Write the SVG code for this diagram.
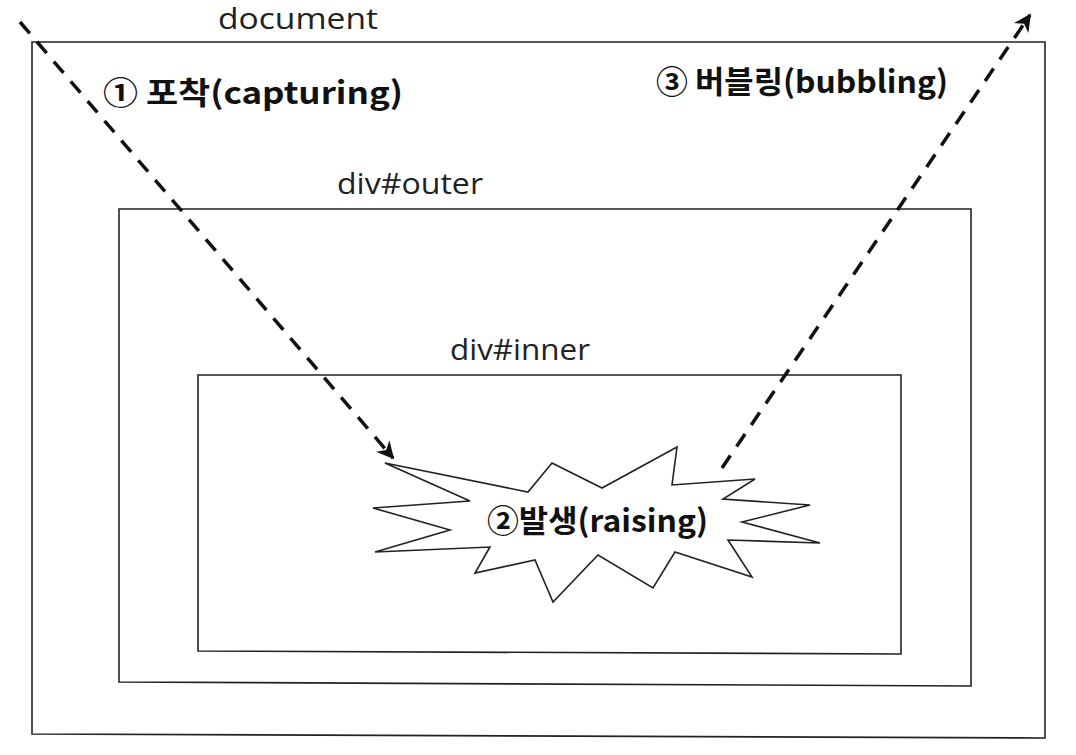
<svg xmlns="http://www.w3.org/2000/svg" width="1076" height="755" viewBox="0 0 1076 755">
<defs>
<marker id="ah" viewBox="0 0 10 10" refX="9" refY="5" markerWidth="5" markerHeight="5" orient="auto" markerUnits="strokeWidth">
<path d="M0,0 L10,5 L0,10 L3,5 Z" fill="#111"/>
</marker>
<style>
.box{fill:none;stroke:#222;stroke-width:1.6}
.lbl{font-family:"Open Sans","Noto Sans",sans-serif;font-size:29px;fill:#222}
.big{font-family:"Noto Sans CJK KR","Noto Sans",sans-serif;font-weight:bold;font-size:31px;fill:#111}
.flow{fill:none;stroke:#111;stroke-width:3.5;stroke-dasharray:15 11;marker-end:url(#ah)}
</style>
</defs>
<rect width="1076" height="755" fill="#fff"/>
<g id="document">
<path class="box" d="M32,42 L1045,42 L1045,738 L32,734 Z"/>
<text class="lbl" x="218" y="29" font-size="27" textLength="160" lengthAdjust="spacingAndGlyphs">document</text>
</g>
<g id="outer">
<path class="box" d="M119,209 L971,209 L971,686 L119,682 Z"/>
<text class="lbl" x="337" y="194" textLength="146" lengthAdjust="spacingAndGlyphs">div#outer</text>
</g>
<g id="inner">
<path class="box" d="M198,375 L901,375 L901,654 L198,651 Z"/>
<text class="lbl" x="450" y="360" textLength="140" lengthAdjust="spacingAndGlyphs">div#inner</text>
</g>
<g id="raising">
<polygon class="box" points="385,463 528,492 552,463 602,488 677,447 672,485 755,479 723,499 810,505 742,522 820,543 728,540 752,577 675,552 653,588 598,555 553,602 535,560 475,573 490,547 375,552 450,530 373,508 470,501"/>
<text class="big" x="487" y="532" textLength="221" lengthAdjust="spacingAndGlyphs">②발생(raising)</text>
</g>
<g id="labels">
<text class="big" x="103" y="104" textLength="300" lengthAdjust="spacingAndGlyphs">① 포착(capturing)</text>
<text class="big" x="656" y="93" textLength="292" lengthAdjust="spacingAndGlyphs">③ 버블링(bubbling)</text>
</g>
<g id="connectors">
<path class="flow" d="M20,22 L393,458"/>
<path class="flow" d="M722,468 L1030,15"/>
</g>
</svg>
